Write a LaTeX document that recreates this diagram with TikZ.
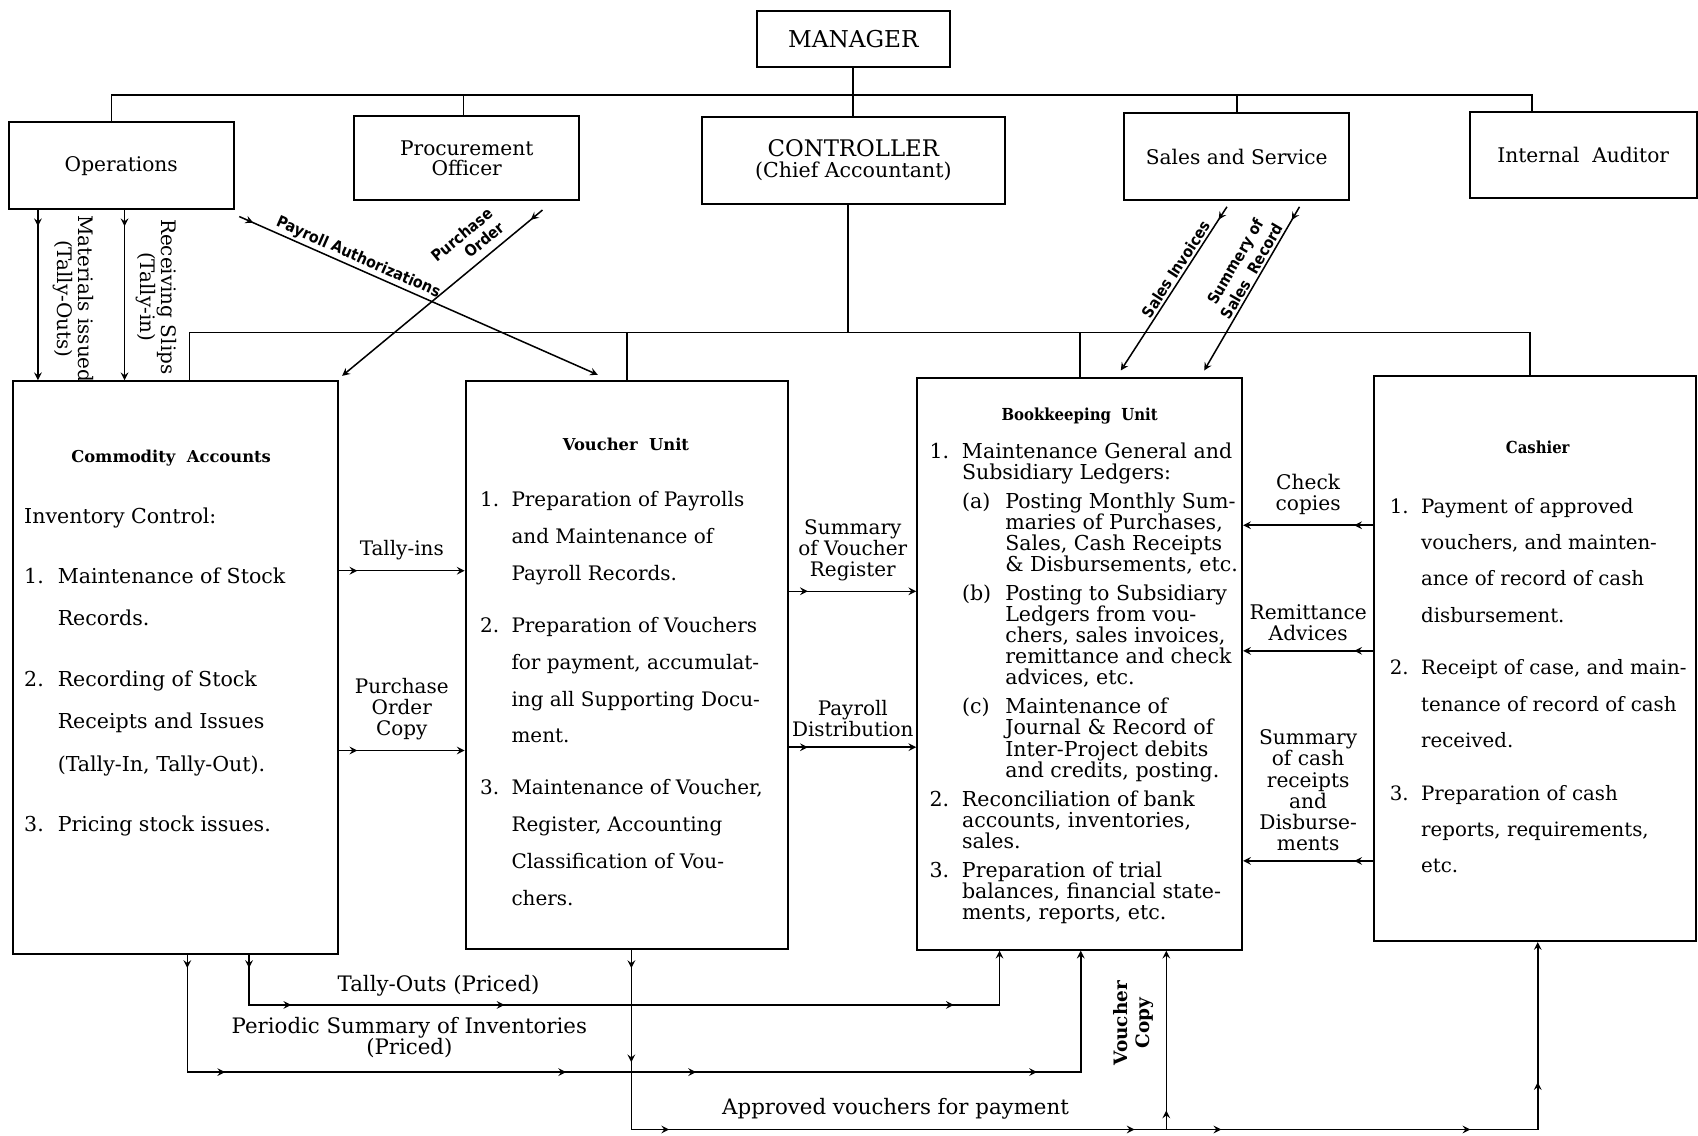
\documentclass[tikz,border=0pt]{standalone}
\usepackage{fontspec}
\usepackage{array}
\setmainfont{DejaVu Serif}
\newfontfamily\clarfont{DejaVu Serif}
\newfontfamily\condfont{DejaVu Serif Condensed}
\newfontfamily\gothfont{DejaVu Sans Condensed}
% columns whose cells keep to the leading of the block
\newcolumntype{N}[1]{>{\setbox0=\hbox to #1\bgroup}l<{\hfil\egroup\ht0=0pt\dp0=0pt\box0}}
\newcolumntype{T}{>{\setbox0=\hbox\bgroup}l<{\egroup\ht0=0pt\dp0=0pt\box0}}
\usetikzlibrary{positioning,decorations.markings}

\begin{document}
\begin{tikzpicture}[%
		x=0.02cm, y=-0.02cm,
		>=stealth,
		unitbox/.style={draw, line width=1.1pt, inner sep=0pt},
		headbox/.style={unitbox, font=\clarfont\fontsize{10.6}{10.8}\selectfont, align=center},
		chiefbox/.style={unitbox, font=\clarfont\fontsize{10.8}{11.4}\selectfont, align=center},
		tree/.style={line width=0.9pt},
		flow/.style={line width=0.8pt, ->},
		tipat/.style={decoration={mark=at position #1 with {\arrow{>}}}},
		tips/.style={postaction={decorate}, decoration={markings}, tipat/.list={#1}},
		midlabel/.style={font=\clarfont\fontsize{10.5}{11.1}\selectfont, align=center, inner sep=1pt},
		sidelabel/.style={font=\clarfont\fontsize{10.6}{11.1}\selectfont, align=center, inner sep=1pt},
		botlabel/.style={font=\clarfont\fontsize{11.2}{11.4}\selectfont, align=center, inner sep=0pt},
		diaglabel/.style={font=\gothfont\bfseries\fontsize{8.3}{9.5}\selectfont, align=center, inner sep=1pt},
		slantlabel/.style={font=\gothfont\bfseries\fontsize{8.2}{10}\selectfont, align=center, inner sep=1pt},
		serifhead/.style={font=\clarfont\bfseries\fontsize{8.6}{10}\selectfont},
		condhead/.style={font=\condfont\bfseries\fontsize{8.7}{10}\selectfont},
		unittext/.style={anchor=base west, inner sep=0pt}
		]
		\path[fill=white, use as bounding box] (0,0) rectangle (1568,1049);

		% top of the chart
		\node[chiefbox, minimum width=3.56cm, minimum height=1.04cm] (manager) at (788,36) {\fontsize{12.2}{12}\selectfont MANAGER};
		\node[headbox, minimum width=4.16cm, minimum height=1.6cm] (ops) at (112,153) {Operations};
		\node[headbox, minimum width=4.16cm, minimum height=1.56cm] (proc) at (431,146) {Procurement\\Officer};
		\node[chiefbox, minimum width=5.6cm, minimum height=1.6cm] (ctrl) at (788,148) {{\fontsize{12}{11.4}\selectfont CONTROLLER}\\(Chief Accountant)};
		\node[headbox, minimum width=4.16cm, minimum height=1.62cm] (sales) at (1142,144.5) {Sales and Service};
		\node[headbox, minimum width=4.2cm, minimum height=1.6cm] (audit) at (1462,143) {Internal~~Auditor};

		% units under the controller
		\node[unitbox, minimum width=6cm, minimum height=10.58cm] (comm) at (162,616.5) {};
		\node[unitbox, minimum width=5.96cm, minimum height=10.48cm] (vouch) at (579,614) {};
		\node[unitbox, minimum width=6cm, minimum height=10.56cm] (book) at (997,613) {};
		\node[unitbox, minimum width=5.94cm, minimum height=10.44cm] (cash) at (1417.5,608) {};

		% lines of authority
		\coordinate (busA) at (788,88);
		\coordinate (busB) at (783,307);
		\coordinate (opsT) at ([shift={(-9,0)}]ops.north);
		\coordinate (procT) at ([shift={(-3,0)}]proc.north);
		\coordinate (auditT) at ([shift={(-47,0)}]audit.north);
		\coordinate (commT) at ([shift={(13,0)}]comm.north);
		\coordinate (cashT) at ([shift={(-4.5,0)}]cash.north);
		\draw[tree] (manager.south) -- (ctrl.north);
		\draw[tree] (opsT) |- (busA) -| (auditT);
		\draw[tree] (procT) -- (procT |- busA);
		\draw[tree] (sales.north) -- (sales.north |- busA);
		\draw[tree] ([shift={(-5,0)}]ctrl.south) -- (busB);
		\draw[tree] (commT) |- (busB) -| (cashT);
		\draw[tree] (vouch.north) -- (vouch.north |- busB);
		\draw[tree] (book.north) -- (book.north |- busB);

		% texts of the units
		\node[serifhead] (commhd) at (158,423) {Commodity~~Accounts};
		\node[unittext, font=\clarfont\fontsize{10.8}{22.2}\selectfont] (commtext) at (22,483) {%
			\begin{tabular}[t]{@{}p{0.62cm}@{}l@{}}
				\multicolumn{2}{@{}l@{}}{Inventory Control:}\\[9.7pt]
				1.&Maintenance of Stock\\
				&Records.\\[9.7pt]
				2.&Recording of Stock\\
				&Receipts and Issues\\
				&(Tally-In, Tally-Out).\\[9.7pt]
				3.&Pricing stock issues.
			\end{tabular}};

		\node[serifhead] (vouchhd) at (578,410) {Voucher~~Unit};
		\node[unittext, font=\clarfont\fontsize{10.5}{19.35}\selectfont] (vouchtext) at (443,468) {%
			\begin{tabular}[t]{@{}p{0.58cm}@{}l@{}}
				1.&Preparation of Payrolls\\
				&and Maintenance of\\
				&Payroll Records.\\[8pt]
				2.&Preparation of Vouchers\\
				&for payment, accumulat-\\
				&ing all Supporting Docu-\\
				&ment.\\[8pt]
				3.&Maintenance of Voucher,\\
				&Register, Accounting\\
				&Classification of Vou-\\
				&chers.
			\end{tabular}};

		\node[condhead] (bookhd) at (997,384) {Bookkeeping~~Unit};
		\node[unittext, font=\clarfont\fontsize{10.8}{11.1}\selectfont] (booktext) at (858,423) {%
			\begin{tabular}[t]{@{}N{0.6cm}@{}N{0.8cm}@{}T@{}}
				1.&\multicolumn{2}{@{}T@{}}{Maintenance General and}\\
				&\multicolumn{2}{@{}T@{}}{Subsidiary Ledgers:}\\[4.1pt]
				&(a)&Posting Monthly Sum-\\
				&&maries of Purchases,\\
				&&Sales, Cash Receipts\\
				&&\& Disbursements, etc.\\[4.1pt]
				&(b)&Posting to Subsidiary\\
				&&Ledgers from vou-\\
				&&chers, sales invoices,\\
				&&remittance and check\\
				&&advices, etc.\\[4.1pt]
				&(c)&Maintenance of\\
				&&Journal \& Record of\\
				&&Inter-Project debits\\
				&&and credits, posting.\\[4.1pt]
				2.&\multicolumn{2}{@{}T@{}}{Reconciliation of bank}\\
				&\multicolumn{2}{@{}T@{}}{accounts, inventories,}\\
				&\multicolumn{2}{@{}T@{}}{sales.}\\[4.1pt]
				3.&\multicolumn{2}{@{}T@{}}{Preparation of trial}\\
				&\multicolumn{2}{@{}T@{}}{balances, financial state-}\\
				&\multicolumn{2}{@{}T@{}}{ments, reports, etc.}
			\end{tabular}};

		\node[condhead] (cashhd) at (1420,413) {Cashier};
		\node[unittext, font=\clarfont\fontsize{10.4}{19.06}\selectfont] (cashtext) at (1283,474) {%
			\begin{tabular}[t]{@{}p{0.58cm}@{}l@{}}
				1.&Payment of approved\\
				&vouchers, and mainten-\\
				&ance of record of cash\\
				&disbursement.\\[8.7pt]
				2.&Receipt of case, and main-\\
				&tenance of record of cash\\
				&received.\\[8.7pt]
				3.&Preparation of cash\\
				&reports, requirements,\\
				&etc.
			\end{tabular}};

		% documents from the departments
		\coordinate (colMI) at (35,0);
		\coordinate (colRS) at (115,0);
		\draw[flow, tips={8.5pt}] (ops.south -| colMI) -- (comm.north -| colMI);
		\draw[flow, tips={8.5pt}] (ops.south -| colRS) -- (comm.north -| colRS);
		\node[midlabel, rotate=-90] (milabel) at (68,276) {Materials issued\\(Tally-Outs)};
		\node[midlabel, rotate=-90] (rslabel) at (144,274) {Receiving Slips\\(Tally-in)};

		\draw[flow, tips={8pt}] ([shift={(4,6)}]ops.south east) --
			node[diaglabel, sloped, above, pos=0.32] (palabel) {Payroll Authorizations}
			([shift={(-27,-5)}]vouch.north);
		\draw[flow, tips={8pt}] ([shift={(-35,8)}]proc.south east) --
			node[diaglabel, sloped, above=3pt, pos=0.3, align=right] (polabel) {Purchase\\Order}
			([shift={(3,-4)}]comm.north east);
		\draw[flow, tips={8pt}] ([shift={(-9,5)}]sales.south) --
			node[slantlabel, sloped, above, pos=0.41] (silabel) {Sales Invoices}
			([shift={(38,-6)}]book.north);
		\draw[flow, tips={8pt}] ([shift={(58,5)}]sales.south) --
			node[slantlabel, sloped, above, pos=0.42] (srlabel) {Summery of\\Sales~~Record}
			([shift={(115,-6)}]book.north);

		% flows between the units
		\coordinate (rowTI) at (0,527);
		\coordinate (rowPO) at (0,693);
		\coordinate (rowSV) at (0,546);
		\coordinate (rowPD) at (0,690);
		\coordinate (rowCC) at (0,485);
		\coordinate (rowRA) at (0,601);
		\coordinate (rowSC) at (0,795);
		\draw[flow, tips={9.7pt}] (comm.east |- rowTI) -- node[midlabel, above=4pt] (tilabel) {Tally-ins} (vouch.west |- rowTI);
		\draw[flow, tips={9.7pt}] (comm.east |- rowPO) -- node[midlabel, above=4pt] (pclabel) {Purchase\\Order\\Copy} (vouch.west |- rowPO);
		\draw[flow, tips={9.7pt}] (vouch.east |- rowSV) -- node[midlabel, above=4pt] (svlabel) {Summary\\of Voucher\\Register} (book.west |- rowSV);
		\draw[flow, tips={9.7pt}] (vouch.east |- rowPD) -- node[midlabel, above=4pt] (pdlabel) {Payroll\\Distribution} (book.west |- rowPD);
		\draw[flow, tips={10pt}] (cash.west |- rowCC) -- node[sidelabel, above=4pt] (cclabel) {Check\\copies} (book.east |- rowCC);
		\draw[flow, tips={10pt}] (cash.west |- rowRA) -- node[sidelabel, above=4pt] (ralabel) {Remittance\\Advices} (book.east |- rowRA);
		\draw[flow, tips={10pt}] (cash.west |- rowSC) -- node[sidelabel, above=4pt] (sclabel) {Summary\\of cash\\receipts\\and\\Disburse-\\ments} (book.east |- rowSC);

		% flows below the units
		\coordinate (colTO) at (230,0);
		\coordinate (colPS) at (173,0);
		\coordinate (colTB) at (923,0);
		\coordinate (colPB) at (998,0);
		\coordinate (colVC) at (1077,0);
		\coordinate (colAV) at (583,0);
		\coordinate (colCA) at (1420,0);
		\coordinate (rowTO) at (0,928);
		\coordinate (rowPS) at (0,990);
		\coordinate (rowAV) at (0,1043);
		\draw[flow, tips={6.8pt,48.4pt,160.5pt,396.6pt}] (comm.south -| colTO) |- (rowTO -| colTB) -- (book.south -| colTB);
		\draw[flow, tips={6.8pt,81.4pt,260.6pt,328.9pt,508.1pt}] (comm.south -| colPS) |- (rowPS -| colPB) -- (book.south -| colPB);
		\draw[flow, tips={9.7pt,59.2pt,114.4pt,359pt,404.6pt,535.5pt,595.8pt}] (vouch.south -| colAV) |- (rowAV -| colCA) -- (cash.south -| colCA);
		\draw[flow, tips={10pt}] (rowAV -| colVC) -- (book.south -| colVC);
		\node[botlabel] (tolabel) at (405,910) {Tally-Outs (Priced)};
		\node[botlabel] (pslabel) at (378,958) {Periodic Summary of Inventories\\(Priced)};
		\node[botlabel] (avlabel) at (827,1024) {Approved vouchers for payment};
		\node[midlabel, font=\clarfont\bfseries\fontsize{9.7}{11.4}\selectfont, rotate=90] (vclabel) at (1047,945) {Voucher\\Copy};
\end{tikzpicture}
\end{document}
